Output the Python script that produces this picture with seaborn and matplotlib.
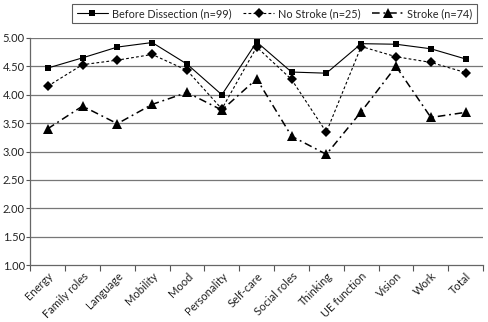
import matplotlib
matplotlib.use("Agg")
import matplotlib.pyplot as plt
import seaborn as sns
import pandas as pd
import numpy as np

categories = ["Energy", "Family roles", "Language", "Mobility", "Mood", "Personality",
              "Self-care", "Social roles", "Thinking", "UE function", "Vision", "Work", "Total"]
before = [4.47, 4.65, 4.84, 4.92, 4.54, 4.00, 4.93, 4.40, 4.38, 4.90, 4.89, 4.81, 4.63]
no_stroke = [4.15, 4.53, 4.61, 4.71, 4.43, 3.75, 4.84, 4.27, 3.34, 4.85, 4.67, 4.57, 4.39]
stroke = [3.40, 3.80, 3.49, 3.83, 4.04, 3.73, 4.28, 3.27, 2.95, 3.70, 4.50, 3.60, 3.69]
series_names = ["Before Dissection (n=99)", "No Stroke (n=25)", "Stroke (n=74)"]
y_ticks = [1.00, 1.50, 2.00, 2.50, 3.00, 3.50, 4.00, 4.50, 5.00]

sns.set_theme(style="white")
plt.rcParams['font.family'] = ['Lato', 'DejaVu Sans']

rows = []
for name, vals in zip(series_names, [before, no_stroke, stroke]):
    for i, v in enumerate(vals):
        rows.append({"pos": i, "score": v, "series": name})
df = pd.DataFrame(rows)

fig = plt.figure(figsize=(4.88, 3.22), dpi=100)
ax = fig.add_axes([0.062, 0.177, 0.928, 0.705])

lws = [0.8, 0.8, 1.1]
mss = [5, 5.5, 7.5]
sns.lineplot(data=df, x="pos", y="score", hue="series", style="series",
             hue_order=series_names, style_order=series_names,
             palette=["black", "black", "black"],
             markers={series_names[0]: "s", series_names[1]: "D", series_names[2]: "^"},
             dashes={series_names[0]: "", series_names[1]: (2.5, 2.0), series_names[2]: (5, 2.5, 1.2, 2.5)},
             sort=False, ax=ax, legend=True, markeredgewidth=0)

for line, lw, ms in zip(ax.get_lines()[:3], lws, mss):
    line.set_linewidth(lw)
    line.set_markersize(ms)

handles, labels = ax.get_legend_handles_labels()
leg = ax.legend(handles, labels, loc="lower right", bbox_to_anchor=(0.998, 1.04), ncol=3,
                frameon=True, fontsize=7.8, handlelength=2.9, columnspacing=1.05,
                borderpad=0.4, handletextpad=0.35, fancybox=False, edgecolor="#333333")
leg.get_frame().set_linewidth(0.8)
for h, ms, lw in zip(leg.legend_handles, mss, lws):
    h.set_markersize(ms)
    h.set_linewidth(lw)

ax.set_xlim(-0.5, len(categories) - 0.5)
ax.set_ylim(1.0, 5.0)
ax.set_yticks(y_ticks)
ax.set_yticklabels([f"{t:.2f}" for t in y_ticks], fontsize=8, color="#222222")
ax.set_xticks(range(len(categories)))
ax.set_xticklabels(categories, rotation=45, ha="right", rotation_mode="anchor", fontsize=8, color="#222222")
ax.set_xticks(np.arange(-0.5, len(categories), 1.0), minor=True)
ax.tick_params(axis="x", which="major", length=0, pad=4)
ax.tick_params(axis="x", which="minor", length=4, width=0.8, color="#555555", direction="out", bottom=True)
ax.tick_params(axis="y", which="major", length=3, width=0.8, color="#555555", direction="out", left=True, pad=1)
ax.set_xlabel("")
ax.set_ylabel("")

for y in y_ticks[1:]:
    ax.axhline(y, color="#777777", linewidth=0.9, zorder=0)

for s in ["top", "right"]:
    ax.spines[s].set_visible(False)
for s in ["left", "bottom"]:
    ax.spines[s].set_color("#666666")
    ax.spines[s].set_linewidth(0.9)

fig.savefig("out.png", dpi=100)
